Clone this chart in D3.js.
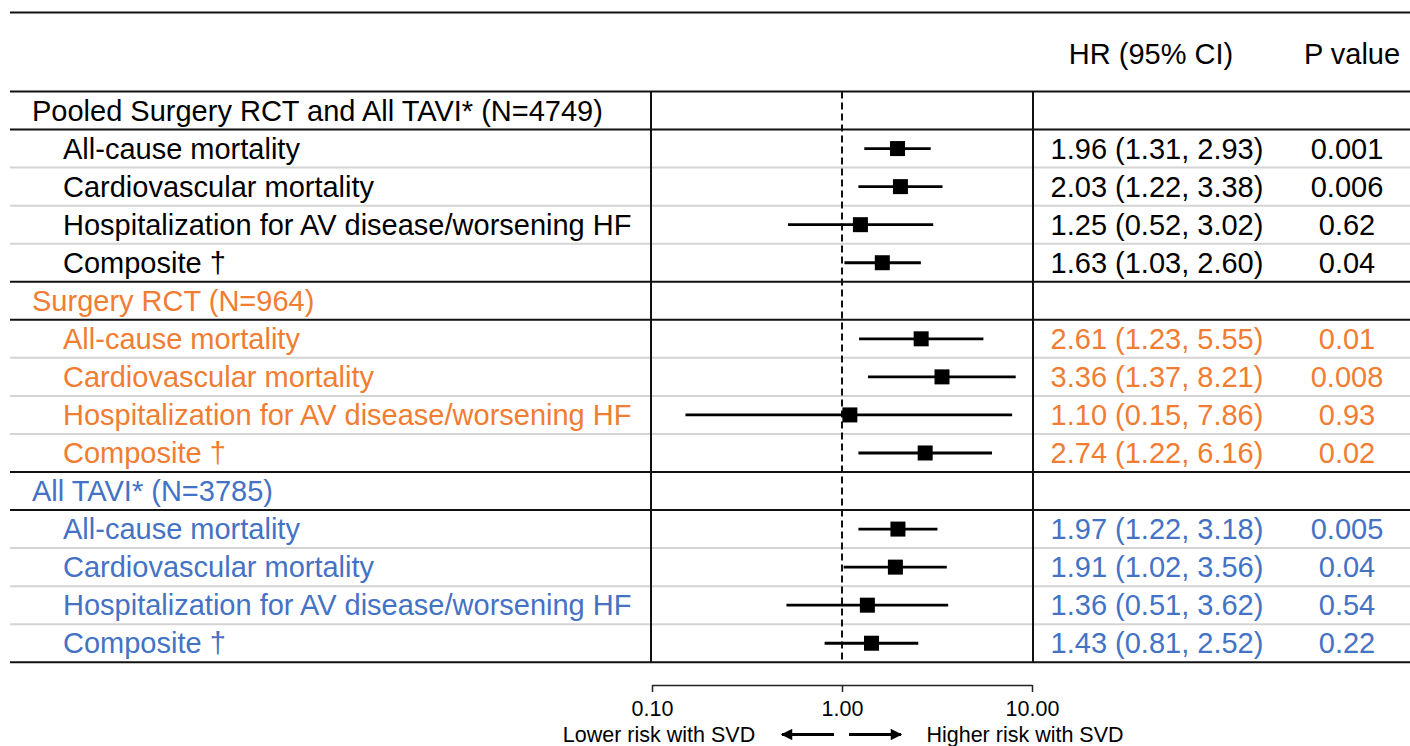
<!DOCTYPE html>
<html>
<head>
<meta charset="utf-8">
<script src="https://cdn.jsdelivr.net/npm/d3@7/dist/d3.min.js"></script>
<style>
  html, body { margin: 0; padding: 0; background: #fff; }
  svg { display: block; font-family: "Liberation Sans", Arial, Helvetica, sans-serif; }
</style>
</head>
<body>
<svg id="chart" width="1410" height="746"></svg>
<script>
// ---- data ----
const groups = ["Pooled Surgery RCT and All TAVI* (N=4749)", "Surgery RCT (N=964)", "All TAVI* (N=3785)"];
const groupColors = ["#000000", "#F07D32", "#4472C4"];
const outcomes = ["All-cause mortality", "Cardiovascular mortality", "Hospitalization for AV disease/worsening HF", "Composite \u2020"];
const hr = [[1.96, 2.03, 1.25, 1.63], [2.61, 3.36, 1.10, 2.74], [1.97, 1.91, 1.36, 1.43]];
const lo = [[1.31, 1.22, 0.52, 1.03], [1.23, 1.37, 0.15, 1.22], [1.22, 1.02, 0.51, 0.81]];
const hi = [[2.93, 3.38, 3.02, 2.60], [5.55, 8.21, 7.86, 6.16], [3.18, 3.56, 3.62, 2.52]];
const pvals = [["0.001", "0.006", "0.62", "0.04"], ["0.01", "0.008", "0.93", "0.02"], ["0.005", "0.04", "0.54", "0.22"]];
const tickValues = [0.1, 1, 10];
const tickLabels = ["0.10", "1.00", "10.00"];
const headers = ["HR (95% CI)", "P value"];
const axisLeftLabel = "Lower risk with SVD";
const axisRightLabel = "Higher risk with SVD";

// ---- build rows ----
const rows = [];
groups.forEach((g, gi) => {
  rows.push({ type: "group", label: g, color: groupColors[gi] });
  outcomes.forEach((o, oi) => {
    rows.push({ type: "item", label: o, color: groupColors[gi], hr: hr[gi][oi], lo: lo[gi][oi], hi: hi[gi][oi], p: pvals[gi][oi] });
  });
});

// ---- layout ----
const svg = d3.select("#chart");
const tableLeft = 10, tableRight = 1410;
const topLine = 12.5, headTop = 91.5, rowH = 38.05;
const col1 = 651, col2 = 1033;
const fontMain = 29, fontAxis = 21.5;

const y = d3.scaleBand().domain(d3.range(rows.length)).range([headTop, headTop + rowH * rows.length]).paddingInner(0).paddingOuter(0);
const x = d3.scaleLog().domain([0.1, 10]).range([652, 1032]);
const bottom = headTop + rowH * rows.length;

// horizontal row lines (light gray between items, black at group borders)
const lineG = svg.append("g");
d3.range(rows.length + 1).forEach(i => {
  const yy = headTop + i * rowH;
  const next = rows[i];
  const prev = rows[i - 1];
  const black = i === 0 || i === rows.length || (next && next.type === "group") || (prev && prev.type === "group");
  lineG.append("line")
    .attr("x1", tableLeft).attr("x2", tableRight)
    .attr("y1", yy).attr("y2", yy)
    .attr("stroke", black ? "#111" : "#d4d4d4")
    .attr("stroke-width", 2);
});
// top line
lineG.append("line").attr("x1", tableLeft).attr("x2", tableRight).attr("y1", topLine).attr("y2", topLine)
  .attr("stroke", "#111").attr("stroke-width", 2);
// vertical lines
[col1, col2].forEach(cx => {
  lineG.append("line").attr("x1", cx).attr("x2", cx).attr("y1", headTop).attr("y2", bottom)
    .attr("stroke", "#111").attr("stroke-width", 2);
});
// reference dashed line at HR=1
svg.append("line")
  .attr("x1", x(1)).attr("x2", x(1)).attr("y1", headTop).attr("y2", bottom)
  .attr("stroke", "#111").attr("stroke-width", 2).attr("stroke-dasharray", "7,4");

// headers
svg.append("text").attr("x", 1151).attr("y", 64).attr("text-anchor", "middle")
  .attr("font-size", fontMain).attr("fill", "#000").text(headers[0]);
svg.append("text").attr("x", 1352).attr("y", 64).attr("text-anchor", "middle")
  .attr("font-size", fontMain).attr("fill", "#000").text(headers[1]);

// row labels
const rowG = svg.append("g");
rows.forEach((r, i) => {
  const cy = y(i) + rowH / 2;
  rowG.append("text")
    .attr("x", r.type === "group" ? 32 : 63)
    .attr("y", cy + 10)
    .attr("font-size", fontMain)
    .attr("fill", r.color)
    .text(r.label);
  if (r.type === "item") {
    rowG.append("text").attr("x", 1157).attr("y", cy + 10).attr("text-anchor", "middle")
      .attr("font-size", fontMain).attr("fill", r.color)
      .text(`${r.hr.toFixed(2)} (${r.lo.toFixed(2)}, ${r.hi.toFixed(2)})`);
    rowG.append("text").attr("x", 1347).attr("y", cy + 10).attr("text-anchor", "middle")
      .attr("font-size", fontMain).attr("fill", r.color).text(r.p);
  }
});

// CI lines and squares
const items = rows.map((r, i) => ({ ...r, i })).filter(r => r.type === "item");
const marks = svg.append("g");
marks.selectAll("line.ci").data(items).enter().append("line")
  .attr("class", "ci")
  .attr("x1", d => x(d.lo)).attr("x2", d => x(d.hi))
  .attr("y1", d => y(d.i) + rowH / 2).attr("y2", d => y(d.i) + rowH / 2)
  .attr("stroke", "#000").attr("stroke-width", 2.8);
const sq = 15;
marks.selectAll("rect.pt").data(items).enter().append("rect")
  .attr("class", "pt")
  .attr("x", d => x(d.hr) - sq / 2).attr("y", d => y(d.i) + rowH / 2 - sq / 2)
  .attr("width", sq).attr("height", sq)
  .attr("fill", "#000");

// axis
const axisY = 685;
const axis = d3.axisBottom(x).tickValues(tickValues).tickFormat((d, i) => tickLabels[i]).tickSize(7).tickSizeOuter(0).tickPadding(9);
const ag = svg.append("g").attr("transform", `translate(0,${axisY})`).call(axis);
ag.select(".domain").attr("stroke", "#222").attr("stroke-width", 1.5);
ag.selectAll(".tick line").attr("stroke", "#222").attr("stroke-width", 1.5);
ag.selectAll(".tick text").attr("font-size", fontAxis).attr("fill", "#000")
  .attr("font-family", '"Liberation Sans", Arial, sans-serif');

// axis direction labels & arrows
svg.append("text").attr("x", x(0.1) + 7).attr("y", 741.5).attr("text-anchor", "middle")
  .attr("font-size", fontAxis).attr("fill", "#000").text(axisLeftLabel);
svg.append("text").attr("x", x(10) - 7).attr("y", 741.5).attr("text-anchor", "middle")
  .attr("font-size", fontAxis).attr("fill", "#000").text(axisRightLabel);

const defs = svg.append("defs");
defs.append("marker").attr("id", "ah").attr("viewBox", "0 0 10 10").attr("refX", 9).attr("refY", 5)
  .attr("markerWidth", 4.4).attr("markerHeight", 3.8).attr("orient", "auto").attr("markerUnits", "strokeWidth")
  .append("path").attr("d", "M0,0 L10,5 L0,10 Z").attr("fill", "#000");
const arrowY = 734.5;
svg.append("line").attr("x1", x(1) - 8).attr("x2", x(1) - 60).attr("y1", arrowY).attr("y2", arrowY)
  .attr("stroke", "#000").attr("stroke-width", 3).attr("marker-end", "url(#ah)");
svg.append("line").attr("x1", x(1) + 7).attr("x2", x(1) + 59).attr("y1", arrowY).attr("y2", arrowY)
  .attr("stroke", "#000").attr("stroke-width", 3).attr("marker-end", "url(#ah)");
</script>
</body>
</html>
